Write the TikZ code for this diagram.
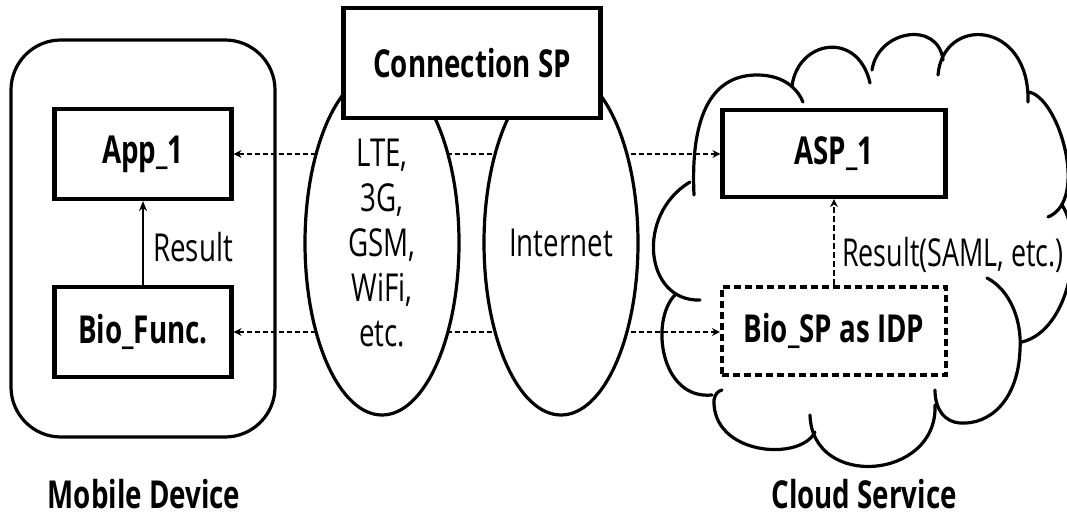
\documentclass[tikz,border=0pt]{standalone}
\usepackage{fontspec}
\setmainfont{Open Sans}[FakeStretch=0.72]
\usetikzlibrary{shapes.geometric,arrows.meta,calc}
\newcommand\bigtxt{\fontsize{38.5}{45}\selectfont}
\begin{document}
\begin{tikzpicture}[x=1pt,y=-1pt,
  every node/.style={font=\bigtxt},
  box/.style={draw, line width=4.2pt, minimum width=177pt, minimum height=90pt, inner sep=0pt, font=\bigtxt\bfseries},
  netell/.style={ellipse, draw, fill=white, line width=3.2pt, minimum width=154pt, minimum height=344pt, inner sep=0pt, align=center},
  cloudline/.style={line width=3.2pt, line cap=round},
  dasharrow/.style={line width=2pt, dash pattern=on 5pt off 3pt, {Stealth[length=8pt,width=8pt]}-{Stealth[length=8pt,width=8pt]}},
  dashup/.style={line width=2pt, dash pattern=on 6pt off 3pt, -{Stealth[length=8pt,width=8pt]}},
  resarrow/.style={line width=1.6pt, -{Stealth[length=10pt,width=8pt]}},
  lbl/.style={inner sep=0pt}
]
\useasboundingbox (0,0) rectangle (1067,518);

% Mobile device
\node[draw, line width=3.2pt, rounded corners=50pt, minimum width=264pt, minimum height=397pt, inner sep=0pt] (mobile) at (143,238.5) {};
\node[box] (app) at (143,154) {App\_1};
\node[box] (bio) at (143,332) {Bio\_Func.};

% Cloud service
\node[box, minimum width=223pt, minimum height=87pt] (asp) at (834,153.5) {ASP\_1};
\node[box, line width=4.2pt, dash pattern=on 7pt off 4pt, minimum width=224pt, minimum height=88pt] (biosp) at (834,331) {Bio\_SP as IDP};

% cloud outline (puffs)
\draw[cloudline] (694,195) .. controls (690,110) and (715,75) .. (757,75) .. controls (785,75) and (798,90) .. (803,102);
\draw[cloudline] (792,86) .. controls (798,40) and (858,30) .. (870,83);
\draw[cloudline] (872,70) .. controls (878,30) and (938,20) .. (943,60);
\draw[cloudline] (938,75) .. controls (943,15) and (1030,20) .. (1028,102);
\draw[cloudline] (1028,92) .. controls (1058,95) and (1090,200) .. (1048,217);
\draw[cloudline] (1062,205) .. controls (1085,240) and (1070,330) .. (1022,342);
\draw[cloudline] (987,278) .. controls (1010,290) and (1022,320) .. (1020,350) .. controls (1018,400) and (990,425) .. (960,423) .. controls (945,422) and (935,410) .. (935,390);
\draw[cloudline] (935,405) .. controls (938,480) and (812,490) .. (810,415);
\draw[cloudline] (815,432) .. controls (800,462) and (712,455) .. (714,400) .. controls (715,394) and (718,391) .. (722,390);
\draw[cloudline] (712,395) .. controls (660,400) and (650,320) .. (675,295);
\draw[cloudline] (700,300) .. controls (645,302) and (635,215) .. (690,182);

% connectors
\draw[resarrow] (bio) -- (app);
\node[lbl, anchor=west] (reslbl) at (153,247) {Result};
\draw[dasharrow] (app.east) -- (app.east -| asp.west);
\draw[dasharrow] (bio.east) -- (bio.east -| biosp.west);
\draw[dashup] (biosp.north) -- (asp.south);
\node[lbl, anchor=west] (samllbl) at (842,255) {\scalebox{0.97}[1]{Result(SAML, etc.)}};

% networks
\node[netell] (net1) at (382,243) {LTE,\\3G,\\GSM,\\WiFi,\\etc.};
\node[netell] (net2) at (561,243) {Internet};
\node[box, fill=white, line width=4.5pt, minimum width=257pt, minimum height=110pt] (csp) at (472,63) {Connection SP};

% captions
\node[lbl, font=\bigtxt\bfseries] (mdlbl) at (144,494) {Mobile Device};
\node[lbl, font=\bigtxt\bfseries] (cslbl) at (864,494) {Cloud Service};
\end{tikzpicture}
\end{document}
